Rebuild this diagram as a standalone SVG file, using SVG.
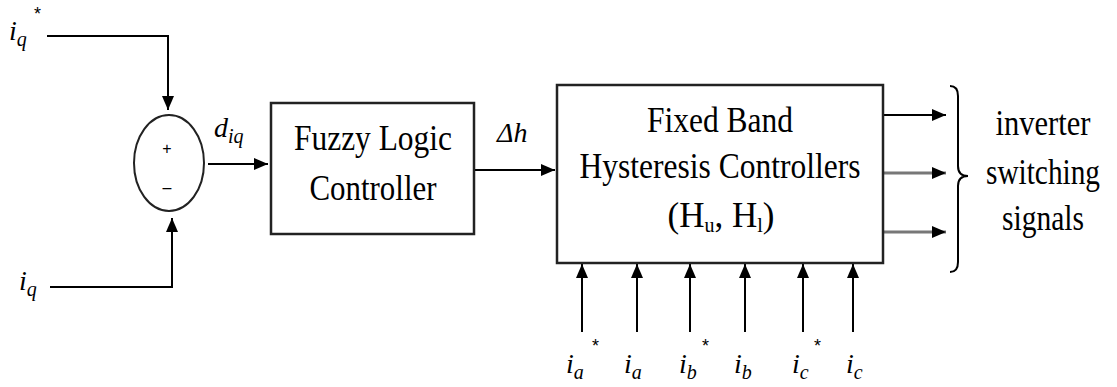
<svg xmlns="http://www.w3.org/2000/svg" width="1117" height="387" viewBox="0 0 1117 387">
<style>
.ln{stroke:#000;stroke-width:2;fill:none}
.gr{stroke:#777;stroke-width:3;fill:none}
.box{stroke:#222;stroke-width:2.5;fill:#fff}
.t{font-family:"Liberation Serif",serif;font-size:35px;fill:#000;text-anchor:middle}
.it{font-family:"Liberation Serif",serif;font-style:italic;font-size:28px;fill:#000}
.sb{font-size:20px}
.st{font-family:"Liberation Sans",sans-serif;font-size:18px;fill:#000}
.pm{font-family:"Liberation Sans",sans-serif;font-size:16px;fill:#000;text-anchor:middle}
</style>
<defs>
<marker id="ah" markerWidth="14" markerHeight="12" refX="14" refY="6" orient="auto" markerUnits="userSpaceOnUse">
<path d="M0,0 L14,6 L0,12 Z" fill="#000"/>
</marker>
</defs>
<g id="connectors">
<polyline class="ln" points="47,36 168,36 168,110" marker-end="url(#ah)"/>
<polyline class="ln" points="50,287 172,287 172,218" marker-end="url(#ah)"/>
<line class="ln" x1="208" y1="164" x2="268" y2="164" marker-end="url(#ah)"/>
<line class="ln" x1="474" y1="170" x2="555" y2="170" marker-end="url(#ah)"/>
<line class="ln" x1="883" y1="115" x2="946" y2="115" marker-end="url(#ah)"/>
<line class="gr" x1="883" y1="173" x2="946" y2="173" marker-end="url(#ah)"/>
<line class="gr" x1="883" y1="232" x2="946" y2="232" marker-end="url(#ah)"/>
<line class="ln" x1="582" y1="332" x2="582" y2="264" marker-end="url(#ah)"/>
<line class="ln" x1="637" y1="332" x2="637" y2="264" marker-end="url(#ah)"/>
<line class="ln" x1="690" y1="332" x2="690" y2="264" marker-end="url(#ah)"/>
<line class="ln" x1="745" y1="332" x2="745" y2="264" marker-end="url(#ah)"/>
<line class="ln" x1="803" y1="332" x2="803" y2="264" marker-end="url(#ah)"/>
<line class="ln" x1="853" y1="332" x2="853" y2="264" marker-end="url(#ah)"/>
</g>
<g id="sum">
<ellipse cx="169" cy="163" rx="35" ry="48" fill="#fff" stroke="#222" stroke-width="2"/>
<text class="pm" x="167" y="154">+</text>
<text class="pm" x="167" y="193">–</text>
</g>
<g id="flc">
<rect class="box" x="271" y="103" width="203" height="131"/>
<text class="t" x="373" y="150" textLength="158" lengthAdjust="spacingAndGlyphs">Fuzzy Logic</text>
<text class="t" x="373" y="200" textLength="127" lengthAdjust="spacingAndGlyphs">Controller</text>
</g>
<g id="hyst">
<rect class="box" x="557" y="85" width="326" height="178"/>
<text class="t" x="720" y="132" textLength="146" lengthAdjust="spacingAndGlyphs">Fixed Band</text>
<text class="t" x="720" y="178" textLength="281" lengthAdjust="spacingAndGlyphs">Hysteresis Controllers</text>
<text class="t" x="721" y="227">(H<tspan font-size="20" dy="5">u</tspan><tspan dy="-5">, H</tspan><tspan font-size="20" dy="5">l</tspan><tspan dy="-5">)</tspan></text>
</g>
<g id="output">
<path d="M950,86 Q958,86 958,96 L958,166 Q958,176 968,176 Q958,176 958,186 L958,262 Q958,272 950,272" class="ln" stroke-width="1.5"/>
<text class="t" x="1043" y="135" font-size="33" textLength="95" lengthAdjust="spacingAndGlyphs">inverter</text>
<text class="t" x="1043" y="184" font-size="32" textLength="114" lengthAdjust="spacingAndGlyphs">switching</text>
<text class="t" x="1043" y="230" font-size="33" textLength="82" lengthAdjust="spacingAndGlyphs">signals</text>
</g>
<g id="labels">
<text class="it" x="9" y="40">i<tspan class="sb" dy="6">q</tspan></text>
<text class="st" x="34" y="20">*</text>
<text class="it" x="19" y="290">i<tspan class="sb" dy="6">q</tspan></text>
<text class="it" x="214" y="137">d<tspan class="sb" dy="6">iq</tspan></text>
<text class="it" x="497" y="142" font-size="22">Δh</text>
<text class="it" x="566" y="373">i<tspan class="sb" dy="6">a</tspan></text>
<text class="st" x="592" y="352">*</text>
<text class="it" x="624" y="373">i<tspan class="sb" dy="6">a</tspan></text>
<text class="it" x="679" y="373">i<tspan class="sb" dy="6">b</tspan></text>
<text class="st" x="702" y="352">*</text>
<text class="it" x="734" y="373">i<tspan class="sb" dy="6">b</tspan></text>
<text class="it" x="792" y="373">i<tspan class="sb" dy="6">c</tspan></text>
<text class="st" x="814" y="352">*</text>
<text class="it" x="846" y="373">i<tspan class="sb" dy="6">c</tspan></text>
</g>
</svg>
